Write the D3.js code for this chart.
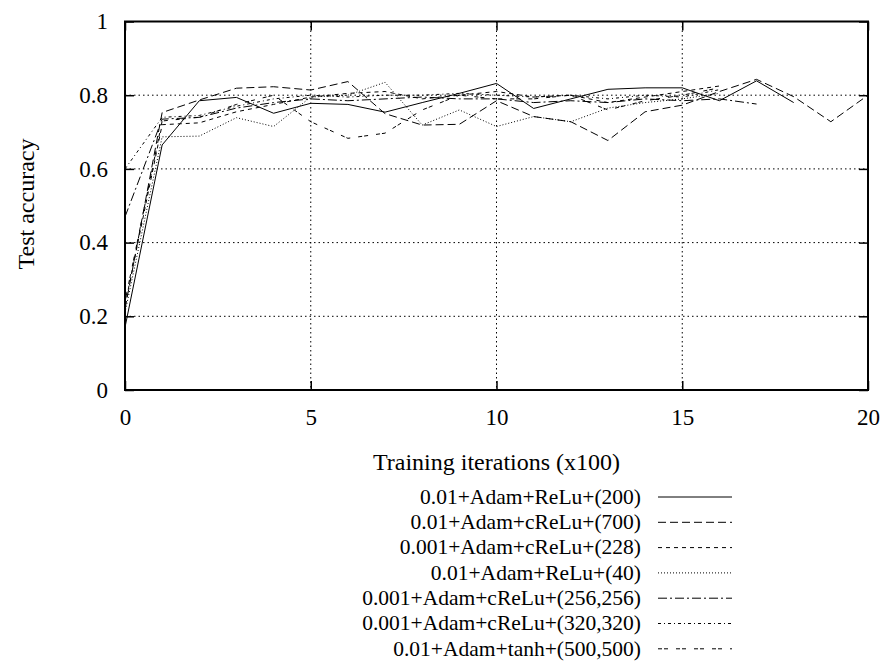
<!DOCTYPE html>
<html>
<head>
<meta charset="utf-8">
<script src="https://cdn.jsdelivr.net/npm/d3@7"></script>
<style>
  body { margin: 0; background: #fff; }
</style>
</head>
<body>
<div id="chart"></div>
<script>
const width = 886, height = 662;
const margin = {top: 21.5, right: 18, bottom: 272, left: 125};
const serif = "'Liberation Serif', 'Times New Roman', Times, serif";

// test accuracy per run, one value per 100 iterations
const relu200 = [0.17, 0.665, 0.785, 0.794, 0.751, 0.778, 0.775, 0.754, 0.78, 0.805, 0.832, 0.764, 0.79, 0.816, 0.82, 0.82, 0.785, 0.839, 0.78];
const crelu700 = [0.22, 0.753, 0.787, 0.819, 0.823, 0.814, 0.837, 0.75, 0.719, 0.721, 0.785, 0.742, 0.728, 0.677, 0.755, 0.773, 0.81, 0.843, 0.796, 0.728, 0.80];
const crelu228 = [0.23, 0.72, 0.725, 0.755, 0.775, 0.795, 0.805, 0.81, 0.79, 0.80, 0.81, 0.795, 0.80, 0.78, 0.795, 0.81, 0.825];
const relu40 = [0.21, 0.687, 0.689, 0.739, 0.715, 0.795, 0.80, 0.835, 0.719, 0.76, 0.715, 0.742, 0.728, 0.765, 0.78, 0.79, 0.805];
const crelu256 = [0.47, 0.735, 0.74, 0.765, 0.78, 0.79, 0.785, 0.79, 0.795, 0.79, 0.79, 0.78, 0.785, 0.78, 0.79, 0.785, 0.79, 0.776];
const crelu320 = [0.60, 0.74, 0.745, 0.77, 0.79, 0.80, 0.795, 0.80, 0.80, 0.805, 0.80, 0.795, 0.80, 0.79, 0.80, 0.795, 0.815];
const tanh500 = [0.24, 0.73, 0.74, 0.775, 0.80, 0.728, 0.683, 0.697, 0.76, 0.80, 0.79, 0.79, 0.80, 0.76, 0.785, 0.80, 0.82];

const names = ["0.01+Adam+ReLu+(200)", "0.01+Adam+cReLu+(700)", "0.001+Adam+cReLu+(228)",
  "0.01+Adam+ReLu+(40)", "0.001+Adam+cReLu+(256,256)", "0.001+Adam+cReLu+(320,320)", "0.01+Adam+tanh+(500,500)"];
const dashes = ["none", "8,4", "4,4", "1,2", "9,3,2,3", "3,3,1,3", "4,2,4,8"];

const xTicks = [0, 5, 10, 15, 20];
const yTicks = [0, 0.2, 0.4, 0.6, 0.8, 1];

const series = [relu200, crelu700, crelu228, relu40, crelu256, crelu320, tanh500];

const innerW = width - margin.left - margin.right;
const innerH = height - margin.top - margin.bottom;

const svg = d3.select("#chart").append("svg")
    .attr("width", width)
    .attr("height", height)
    .style("font-family", serif);

const g = svg.append("g")
    .attr("transform", `translate(${margin.left}, ${margin.top})`);

const x = d3.scaleLinear().domain([0, 20]).range([0, innerW]);
const y = d3.scaleLinear().domain([0, 1]).range([innerH, 0]);

// dotted grid
g.append("g").selectAll("line")
    .data(xTicks.slice(1, -1))
    .join("line")
    .attr("x1", d => x(d)).attr("x2", d => x(d))
    .attr("y1", 0).attr("y2", innerH)
    .attr("stroke", "#000").attr("stroke-width", 1).attr("stroke-dasharray", "1.5,3");
g.append("g").selectAll("line")
    .data(yTicks.slice(1, -1))
    .join("line")
    .attr("x1", 0).attr("x2", innerW)
    .attr("y1", d => y(d)).attr("y2", d => y(d))
    .attr("stroke", "#000").attr("stroke-width", 1).attr("stroke-dasharray", "1.5,3");

// axes with inward ticks on all four sides
const tk = 9;
g.append("g").call(d3.axisLeft(y).tickValues(yTicks).tickFormat(d3.format("")).tickSize(-tk).tickPadding(17));
g.append("g").attr("transform", `translate(0, ${innerH})`)
    .call(d3.axisBottom(x).tickValues(xTicks).tickSize(-tk).tickPadding(19));
g.append("g").attr("transform", `translate(${innerW}, 0)`)
    .call(d3.axisRight(y).tickValues(yTicks).tickSize(-tk).tickFormat(""));
g.append("g").call(d3.axisTop(x).tickValues(xTicks).tickSize(-tk).tickFormat(""));

g.selectAll(".domain").remove();
g.selectAll(".tick line").attr("stroke", "#000").attr("stroke-width", 1.5);
g.selectAll(".tick text")
    .attr("font-family", serif)
    .style("font-family", serif)
    .style("font-size", "23px")
    .attr("fill", "#000");

g.append("rect")
    .attr("width", innerW).attr("height", innerH)
    .attr("fill", "none").attr("stroke", "#000").attr("stroke-width", 2);

// lines
const line = d3.line().x((d, i) => x(i)).y(d => y(d));
g.append("g").selectAll("path")
    .data(series)
    .join("path")
    .attr("d", line)
    .attr("fill", "none")
    .attr("stroke", "#000")
    .attr("stroke-width", 1)
    .attr("stroke-dasharray", (d, i) => dashes[i]);

// axis titles
svg.append("text")
    .attr("transform", `translate(${margin.left + innerW / 2}, 470)`)
    .style("text-anchor", "middle")
    .style("font-family", serif)
    .style("font-size", "24px")
    .text("Training iterations (x100)");

svg.append("text")
    .attr("transform", `translate(34, 204) rotate(-90)`)
    .style("text-anchor", "middle")
    .style("font-family", serif)
    .style("font-size", "24px")
    .text("Test accuracy");

// legend
const legend = svg.append("g");
const rows = legend.selectAll("g")
    .data(names)
    .join("g")
    .attr("transform", (d, i) => `translate(0, ${497 + i * 25.3})`);
rows.append("text")
    .attr("x", 641)
    .attr("dy", "0.32em")
    .style("text-anchor", "end")
    .style("font-family", serif)
    .style("font-size", "21.5px")
    .text(d => d);
rows.append("line")
    .attr("x1", 658).attr("x2", 732)
    .attr("stroke", "#000").attr("stroke-width", 1)
    .attr("stroke-dasharray", (d, i) => dashes[i]);
</script>
</body>
</html>
